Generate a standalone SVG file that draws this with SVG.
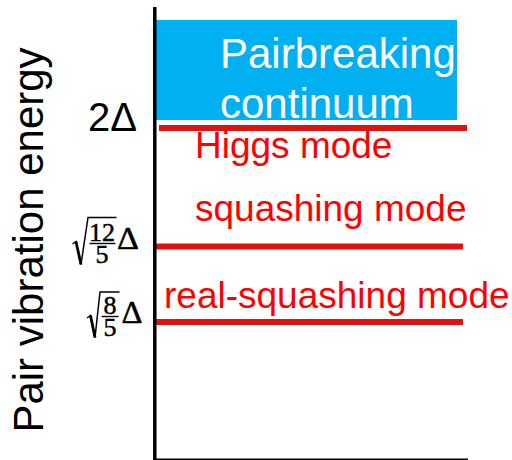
<svg xmlns="http://www.w3.org/2000/svg" width="512" height="460" viewBox="0 0 512 460">
  <style>
    .sans { font-family: "Liberation Sans", Arial, sans-serif; }
    .serif { font-family: "Liberation Serif", "Times New Roman", serif; fill: #000; stroke: #000; stroke-width: 0.45; }
    .mode { font-family: "Liberation Sans", Arial, sans-serif; font-size: 37px; fill: #ff0000; }
    .level { stroke: #e01212; stroke-width: 6; fill: none; }
    .rad { stroke: #000; fill: none; stroke-linejoin: miter; }
  </style>
  <rect width="512" height="460" fill="#ffffff"/>

  <!-- axis title -->
  <g id="axis-title">
    <text class="sans" font-size="42" fill="#000" text-anchor="middle" transform="translate(43,240) rotate(-90)">Pair vibration energy</text>
  </g>

  <!-- continuum band above 2Δ -->
  <g id="continuum">
    <rect x="155" y="20" width="302" height="100" fill="#00b0f0"/>
    <text class="sans" font-size="42" fill="#ffffff" x="220" y="68">Pairbreaking</text>
    <text class="sans" font-size="42" fill="#ffffff" x="220" y="118">continuum</text>
  </g>

  <!-- energy levels and axis -->
  <g id="connectors">
    <line class="level" x1="159" y1="128" x2="467" y2="128"/>
    <line class="level" x1="155" y1="246.5" x2="463" y2="246.5"/>
    <line class="level" x1="155" y1="322" x2="463" y2="322"/>
    <line x1="154.8" y1="7" x2="154.8" y2="460" stroke="#000" stroke-width="3.5"/>
    <line x1="153" y1="459.3" x2="468" y2="459.3" stroke="#000" stroke-width="1.5"/>
  </g>

  <g id="label-2delta">
    <text class="sans" font-size="40" fill="#000" x="88" y="131">2Δ</text>
  </g>

  <g id="label-sqrt12">
    <path class="rad" stroke-width="1.5" d="M72.5,244 L76,241.5 L81,264.5 L88,217.5 H116.5"/>
    <line x1="76" y1="241.5" x2="81" y2="264.5" stroke="#000" stroke-width="2.8"/>
    <text class="serif" font-size="26" text-anchor="middle"><tspan x="102" y="241">12</tspan><tspan x="102" y="263">5</tspan></text>
    <line x1="89.5" y1="243.5" x2="115.5" y2="243.5" stroke="#000" stroke-width="1.4"/>
    <text class="serif" font-size="31" x="117" y="249" textLength="22" lengthAdjust="spacingAndGlyphs">Δ</text>
  </g>

  <g id="label-sqrt8">
    <path class="rad" stroke-width="1.5" d="M87,318 L90.5,315.5 L95,337.5 L100,292 H119.5"/>
    <line x1="90.5" y1="315.5" x2="95" y2="337.5" stroke="#000" stroke-width="2.8"/>
    <text class="serif" font-size="26" text-anchor="middle"><tspan x="110" y="313.5">8</tspan><tspan x="110" y="336">5</tspan></text>
    <line x1="101.5" y1="316.5" x2="118.5" y2="316.5" stroke="#000" stroke-width="1.4"/>
    <text class="serif" font-size="31" x="121.5" y="322.5" textLength="21" lengthAdjust="spacingAndGlyphs">Δ</text>
  </g>

  <g id="higgs">
    <text class="mode" x="195" y="158">Higgs mode</text>
  </g>
  <g id="squashing">
    <text class="mode" x="195" y="221">squashing mode</text>
  </g>
  <g id="real-squashing">
    <text class="mode" x="164" y="308">real-squashing mode</text>
  </g>
</svg>
